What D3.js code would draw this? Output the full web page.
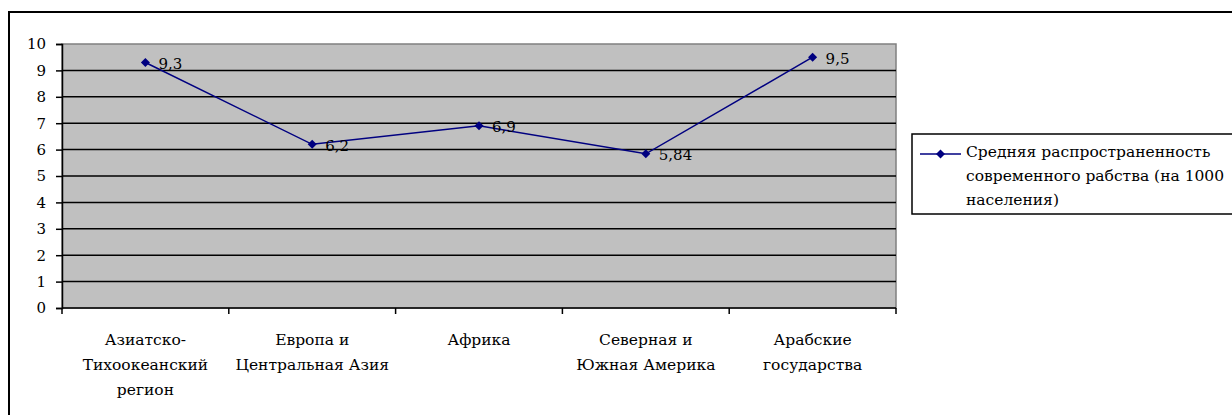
<!DOCTYPE html>
<html>
<head>
<meta charset="utf-8">
<script src="https://cdn.jsdelivr.net/npm/d3@7"></script>
<style>
  html, body { margin: 0; padding: 0; background: #fff; }
  svg { display: block; }
</style>
</head>
<body>
<svg id="chart" width="1232" height="415"></svg>
<script>
// Regions and average prevalence of modern slavery (per 1000 population)
const categories = [
  ["Азиатско-", "Тихоокеанский", "регион"],
  ["Европа и", "Центральная Азия"],
  ["Африка"],
  ["Северная и", "Южная Америка"],
  ["Арабские", "государства"]
];
const values = [9.3, 6.2, 6.9, 5.84, 9.5];
const valueLabels = ["9,3", "6,2", "6,9", "5,84", "9,5"];
const yTicks = [0, 1, 2, 3, 4, 5, 6, 7, 8, 9, 10];
const legendLines = ["Средняя распространенность", "современного рабства (на 1000", "населения)"];

const FONT = "'DejaVu Serif', serif";
const svg = d3.select("#chart");
const plot = { left: 62, top: 44, right: 896, bottom: 308 };

// outer chart frame
svg.append("rect")
  .attr("x", 9).attr("y", 12)
  .attr("width", 1240).attr("height", 420)
  .attr("fill", "#fff").attr("stroke", "#000").attr("stroke-width", 2);

const idx = categories.map((d, i) => i);
const x = d3.scaleBand().domain(idx).range([plot.left, plot.right]).padding(0);
const y = d3.scaleLinear().domain([0, 10]).range([plot.bottom, plot.top]);

// plot area
svg.append("rect")
  .attr("x", plot.left).attr("y", plot.top)
  .attr("width", plot.right - plot.left).attr("height", plot.bottom - plot.top)
  .attr("fill", "#c0c0c0").attr("stroke", "#808080").attr("stroke-width", 1.5);

// horizontal gridlines
svg.append("g").selectAll("line")
  .data(yTicks.filter(t => t > 0 && t < 10))
  .join("line")
  .attr("x1", plot.left).attr("x2", plot.right)
  .attr("y1", d => y(d)).attr("y2", d => y(d))
  .attr("stroke", "#000").attr("stroke-width", 1.5);

// y axis
const yAxis = svg.append("g")
  .attr("transform", `translate(${plot.left},0)`)
  .call(d3.axisLeft(y).tickValues(yTicks).tickSize(6).tickPadding(10).tickFormat(d3.format("d")));
yAxis.attr("font-family", FONT).attr("font-size", 15);
yAxis.select(".domain").attr("stroke", "#000").attr("stroke-width", 1.5);
yAxis.selectAll(".tick line").attr("stroke", "#000").attr("stroke-width", 1.5);
yAxis.selectAll(".tick text").attr("fill", "#000");

// x axis baseline and ticks at band boundaries
svg.append("line")
  .attr("x1", plot.left).attr("x2", plot.right)
  .attr("y1", plot.bottom).attr("y2", plot.bottom)
  .attr("stroke", "#000").attr("stroke-width", 1.5);
const boundaries = idx.map(i => x(i)).concat([x(idx[idx.length - 1]) + x.bandwidth()]);
svg.append("g").selectAll("line")
  .data(boundaries)
  .join("line")
  .attr("x1", d => d).attr("x2", d => d)
  .attr("y1", plot.bottom).attr("y2", plot.bottom + 6)
  .attr("stroke", "#000").attr("stroke-width", 1.5);

// category labels
const catG = svg.append("g")
  .attr("font-family", FONT).attr("font-size", 15.5)
  .attr("fill", "#000").attr("text-anchor", "middle");
categories.forEach((lines, i) => {
  const t = catG.append("text").attr("x", x(i) + x.bandwidth() / 2).attr("y", 345);
  lines.forEach((ln, j) => {
    t.append("tspan").attr("x", x(i) + x.bandwidth() / 2).attr("dy", j === 0 ? 0 : 25).text(ln);
  });
});

// series line
const cx = i => x(i) + x.bandwidth() / 2;
const color = "#000080";
svg.append("path")
  .datum(values)
  .attr("d", d3.line().x((d, i) => cx(i)).y(d => y(d)))
  .attr("fill", "none").attr("stroke", color).attr("stroke-width", 1.5);

// diamond markers
const diamond = d3.symbol().type(d3.symbolDiamond2).size(52);
svg.append("g").selectAll("path")
  .data(values)
  .join("path")
  .attr("transform", (d, i) => `translate(${cx(i)},${y(d)})`)
  .attr("d", diamond)
  .attr("fill", color);

// value labels
svg.append("g").attr("font-family", FONT).attr("font-size", 15).attr("fill", "#000")
  .selectAll("text")
  .data(values)
  .join("text")
  .attr("x", (d, i) => cx(i) + 13)
  .attr("y", d => y(d) + 6.5)
  .text((d, i) => valueLabels[i]);

// legend
const lg = svg.append("g");
lg.append("rect")
  .attr("x", 912).attr("y", 134).attr("width", 340).attr("height", 80)
  .attr("fill", "#fff").attr("stroke", "#000").attr("stroke-width", 1.5);
lg.append("line")
  .attr("x1", 920).attr("x2", 961).attr("y1", 154).attr("y2", 154)
  .attr("stroke", color).attr("stroke-width", 1.5);
lg.append("path")
  .attr("transform", "translate(940.5,154)")
  .attr("d", diamond)
  .attr("fill", color);
const lt = lg.append("text").attr("x", 966).attr("y", 157)
  .attr("font-family", FONT).attr("font-size", 15.5).attr("fill", "#000");
legendLines.forEach((ln, j) => {
  lt.append("tspan").attr("x", 966).attr("dy", j === 0 ? 0 : 24).text(ln);
});
</script>
</body>
</html>
